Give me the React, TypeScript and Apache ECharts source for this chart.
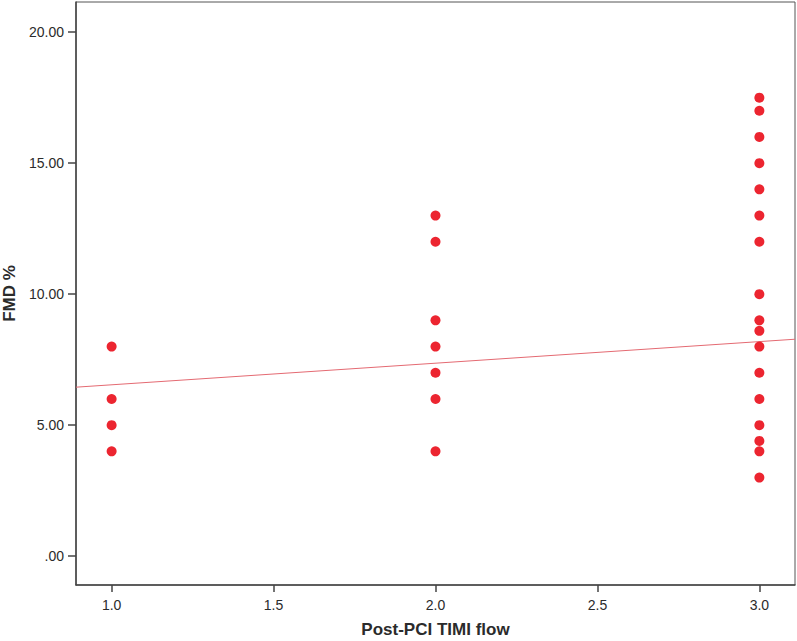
import React, { useEffect, useRef } from "react";
import * as echarts from "echarts";

const timi1 = [8, 6, 5, 4];
const timi2 = [13, 12, 9, 8, 7, 6, 4];
const timi3 = [17.5, 17, 16, 15, 14, 13, 12, 10, 9, 8.6, 8, 7, 6, 5, 4.4, 4, 3];
const fitX = [0.89, 3.11];
const fitY = [6.45, 8.28];
const xTicks = [1, 1.5, 2, 2.5, 3];
const yTicks = [0, 5, 10, 15, 20];

export default function App() {
  const ref = useRef<HTMLDivElement>(null);
  useEffect(() => {
    if (!ref.current) return;
    const chart = echarts.init(ref.current, null, { renderer: "svg" });
    const pts: number[][] = [];
    timi1.forEach((v) => pts.push([1, v]));
    timi2.forEach((v) => pts.push([2, v]));
    timi3.forEach((v) => pts.push([3, v]));
    const textStyle = { color: "#2b2b2b", fontFamily: "Arial, Liberation Sans, sans-serif", fontSize: 14 };
    const nameStyle = { ...textStyle, fontSize: 17, fontWeight: "bold" };
    chart.setOption({
      animation: false,
      backgroundColor: "#fff",
      grid: {
        left: 76, top: 2, right: 2, bottom: 56,
        containLabel: false, outerBoundsMode: "none",
        show: true, borderColor: "#555", borderWidth: 1,
      },
      xAxis: {
        type: "value",
        min: 0.89,
        max: 3.11,
        name: "Post-PCI TIMI flow",
        nameLocation: "middle",
        nameGap: 36,
        nameTextStyle: nameStyle,
        axisLine: { show: true, onZero: false, lineStyle: { color: "#444", width: 1.5 } },
        axisTick: { show: true, length: 7, customValues: xTicks, lineStyle: { color: "#444", width: 1.5 } },
        axisLabel: { ...textStyle, margin: 13, customValues: xTicks, formatter: (v: number) => v.toFixed(1) },
        splitLine: { show: false },
      },
      yAxis: {
        type: "value",
        min: -1.1,
        max: 21.15,
        name: "FMD %",
        nameLocation: "middle",
        nameGap: 58,
        nameRotate: 90,
        nameTextStyle: nameStyle,
        axisLine: { show: true, onZero: false, lineStyle: { color: "#444", width: 1.5 } },
        axisTick: { show: true, length: 8, customValues: yTicks, lineStyle: { color: "#444", width: 1.5 } },
        axisLabel: {
          ...textStyle,
          margin: 12,
          customValues: yTicks,
          formatter: (v: number) => (v === 0 ? ".00" : v.toFixed(2)),
        },
        splitLine: { show: false },
      },
      series: [
        {
          type: "line",
          data: fitX.map((x, i) => [x, fitY[i]]),
          showSymbol: false,
          lineStyle: { color: "#e46a72", width: 1 },
          z: 1,
        },
        {
          type: "scatter",
          data: pts,
          symbolSize: 10,
          itemStyle: { color: "#ec2530", opacity: 1 },
          z: 2,
        },
      ],
    });
    return () => chart.dispose();
  }, []);
  return <div ref={ref} style={{ position: "absolute", left: 0, top: 0, width: 797, height: 641 }} />;
}
